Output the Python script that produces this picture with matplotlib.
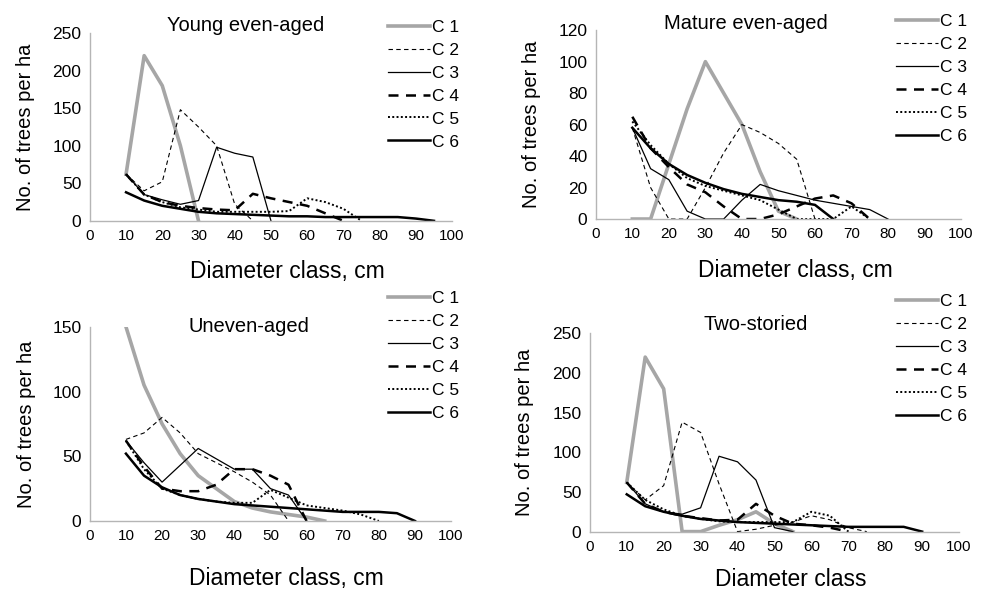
import numpy as np
import matplotlib.pyplot as plt

plt.rcParams['font.family'] = ['Liberation Sans', 'DejaVu Sans']

# diameter classes (cm); each series starts at 10 and runs as long as its list
diam = [10, 15, 20, 25, 30, 35, 40, 45, 50, 55, 60, 65, 70, 75, 80, 85, 90, 95]
labels = ['C 1', 'C 2', 'C 3', 'C 4', 'C 5', 'C 6']

young = [
    [62, 220, 180, 100, 0],
    [62, 40, 52, 148, 125, 100, 22, 0],
    [62, 35, 28, 22, 27, 98, 90, 85, 0],
    [62, 35, 25, 20, 17, 15, 14, 36, 30, 25, 20, 10, 0],
    [62, 35, 25, 18, 15, 12, 12, 12, 12, 13, 30, 25, 16, 0],
    [38, 27, 20, 16, 12, 10, 9, 8, 7, 6, 6, 5, 5, 5, 5, 5, 3, 0],
]
mature = [
    [0, 0, 35, 70, 100, 80, 60, 30, 5, 0],
    [58, 20, 0, 0, 20, 42, 60, 55, 48, 38, 0],
    [58, 32, 25, 5, 0, 0, 12, 22, 18, 15, 12, 10, 8, 6, 0],
    [65, 45, 33, 22, 17, 8, 0, 0, 3, 8, 13, 15, 10, 0],
    [62, 47, 35, 26, 21, 18, 15, 12, 6, 0, 0, 0, 8, 0],
    [58, 45, 35, 28, 23, 19, 16, 14, 12, 11, 9, 0],
]
uneven = [
    [150, 105, 75, 52, 35, 25, 15, 10, 7, 5, 3, 0],
    [63, 68, 80, 68, 52, 45, 38, 30, 20, 0],
    [62, 45, 30, 43, 56, 48, 40, 40, 25, 20, 0],
    [62, 42, 25, 23, 23, 28, 40, 40, 35, 28, 0],
    [62, 40, 25, 20, 17, 15, 14, 14, 24, 18, 12, 10, 8, 5, 0],
    [52, 35, 26, 20, 17, 15, 13, 12, 11, 10, 9, 8, 7, 7, 7, 6, 0],
]
twostory = [
    [62, 220, 180, 0, 0, 8, 15, 25, 10, 0],
    [62, 40, 58, 138, 125, 60, 0, 3, 8, 12, 20, 15, 5, 0],
    [62, 35, 25, 22, 30, 95, 88, 65, 5, 0],
    [62, 35, 25, 20, 17, 14, 15, 35, 20, 10, 8, 5, 0],
    [62, 40, 28, 20, 16, 13, 12, 12, 12, 12, 25, 20, 0],
    [47, 32, 25, 20, 16, 14, 12, 11, 10, 9, 8, 7, 6, 6, 6, 6, 0],
]

styles = [
    dict(color='#a6a6a6', lw=2.6, ls='-'),
    dict(color='black', lw=0.8, ls=(0, (4, 3))),
    dict(color='black', lw=0.9, ls='-'),
    dict(color='black', lw=1.8, ls=(0, (4, 3))),
    dict(color='black', lw=1.4, ls=(0, (1, 1.2))),
    dict(color='black', lw=1.8, ls='-'),
]

panels = [
    # data, title, ymax, ystep, axes rect, title x/y, xlabel, xlabel y, legend anchor
    (young, 'Young even-aged', 250, 50, [0.090, 0.627, 0.363, 0.317], 0.43, 0.99,
     'Diameter class, cm', -0.21, (0.389, 0.967)),
    (mature, 'Mature even-aged', 120, 20, [0.597, 0.630, 0.366, 0.319], 0.41, 0.985,
     'Diameter class, cm', -0.21, (0.898, 0.977)),
    (uneven, 'Uneven-aged', 150, 50, [0.090, 0.120, 0.362, 0.328], 0.44, 0.955,
     'Diameter class, cm', -0.235, (0.389, 0.508)),
    (twostory, 'Two-storied', 250, 50, [0.591, 0.102, 0.370, 0.335], 0.45, 0.995,
     'Diameter class', -0.185, (0.898, 0.504)),
]

fig = plt.figure(figsize=(9.98, 5.92), dpi=100)

for data, title, ymax, ystep, rect, tx, ty, xlab, xly, leg in panels:
    ax = fig.add_axes(rect)
    handles = []
    for vals, st, lab in zip(data, styles, labels):
        h, = ax.plot(diam[:len(vals)], vals, label=lab, **st)
        handles.append(h)
    ax.set_xlim(0, 100)
    ax.set_ylim(0, ymax)
    ax.set_xticks(np.arange(0, 101, 10))
    ax.set_yticks(np.arange(0, ymax + 1, ystep))
    for s in ['top', 'right']:
        ax.spines[s].set_visible(False)
    for s in ['left', 'bottom']:
        ax.spines[s].set_color('#b5b5b5')
        ax.spines[s].set_linewidth(1.0)
    ax.tick_params(length=0, labelsize=12.5, pad=6)
    ax.tick_params(axis='x', labelsize=11)
    ax.set_xlabel(xlab, fontsize=16.5)
    ax.xaxis.set_label_coords(0.545, xly)
    ax.set_ylabel('No. of trees per ha', fontsize=14.5)
    ax.yaxis.set_label_coords(-0.15, 0.5)
    ax.text(tx, ty, title, transform=ax.transAxes, ha='center', va='bottom',
            fontsize=14.5)
    ax.legend(handles=handles, loc='upper left', bbox_to_anchor=leg,
              bbox_transform=fig.transFigure, frameon=False, fontsize=12.5,
              handlelength=2.4, handletextpad=0.15, labelspacing=0.45,
              borderpad=0, borderaxespad=0)

fig.savefig('out.png', dpi=100)
